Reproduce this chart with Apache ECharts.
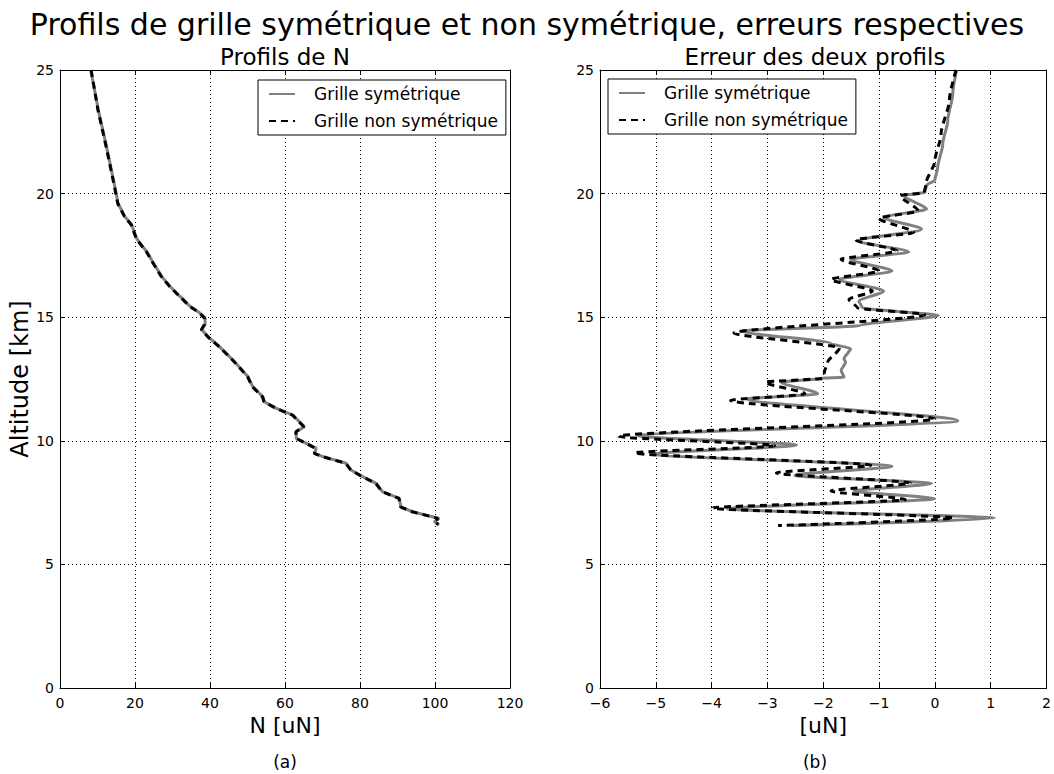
<!DOCTYPE html>
<html>
<head>
<meta charset="utf-8">
<script src="https://cdn.jsdelivr.net/npm/echarts@6/dist/echarts.min.js"></script>
<style>
html,body{margin:0;padding:0;background:#fff;}
#chart{width:1054px;height:774px;}
</style>
</head>
<body>
<div id="chart"></div>
<script>
// ---- Data (N [uN], altitude [km]) ----
const profilSym = [
  [8.2,25],[10.2,23.4],[12.4,21.9],[14.6,20.3],[15.5,19.6],[17.3,19.07],[19.1,18.74],[20.4,18.2],
  [21.3,18.0],[23.1,17.66],[24.9,17.19],[27.1,16.65],[29.3,16.25],[32,15.84],[34.7,15.44],[37.3,15.17],
  [38.7,14.97],[38.7,14.7],[37.8,14.49],[39.9,14.15],[42.6,13.8],[46.1,13.27],[50.1,12.6],[51.4,12.19],
  [54.1,11.78],[54.5,11.58],[57.7,11.31],[62.1,11.04],[65.2,10.57],[63,10.37],[63,10.1],[68.3,9.7],
  [67.9,9.49],[70.1,9.36],[76.3,9.09],[77.6,8.82],[80.7,8.55],[84.3,8.28],[86,7.94],[90.5,7.67],
  [90.9,7.33],[94,7.13],[99.3,6.93],[101.1,6.86],[99.8,6.73],[101.1,6.59]
];
const profilNonSym = [
  [8.3,25],[10.1,23.4],[12.3,21.9],[14.5,20.3],[15.4,19.6],[17.2,19.07],[19.0,18.74],[20.3,18.2],
  [21.2,18.0],[23.0,17.66],[24.8,17.19],[27.0,16.65],[29.2,16.25],[31.9,15.84],[34.6,15.44],[37.2,15.17],
  [38.5,14.97],[38.5,14.7],[37.7,14.49],[39.8,14.15],[42.5,13.8],[46.0,13.27],[50.0,12.6],[51.3,12.19],
  [54.0,11.78],[54.4,11.58],[57.6,11.31],[62.0,11.04],[65.0,10.57],[62.9,10.37],[62.9,10.1],[68.1,9.7],
  [67.8,9.49],[70.0,9.36],[76.2,9.09],[77.5,8.82],[80.6,8.55],[84.2,8.28],[85.9,7.94],[90.4,7.67],
  [90.8,7.33],[93.9,7.13],[99.0,6.93],[100.8,6.86],[99.7,6.73],[100.9,6.62]
];
// ---- Errors ([uN], altitude [km]) ----
const erreurSym = [
  [0.39,25],[0.32,24.04],[0.23,22.95],[0.14,22.0],[0.05,21.06],[0,20.55],[-0.15,20.33],[-0.18,20.05],
  [-0.56,19.92],[-0.15,19.38],[-0.92,19.04],[-0.24,18.56],[-1.39,18.09],[-0.47,17.64],[-1.51,17.34],
  [-0.77,16.87],[-1.71,16.53],[-0.92,16.06],[-1.36,15.65],[-1.3,15.38],[0.06,15.07],[-1.33,14.67],
  [-3.46,14.44],[-1.86,13.93],[-1.51,13.73],[-1.63,13.32],[-1.6,13.18],[-1.68,12.85],[-1.63,12.57],
  [-2.04,12.53],[-2.75,12.37],[-2.1,11.9],[-3.37,11.69],[0.41,10.81],[-5.32,10.2],[-2.48,9.83],
  [-5.05,9.46],[-0.77,8.97],[-2.51,8.6],[-0.06,8.27],[-1.45,7.97],[0,7.66],[-3.72,7.25],[1.06,6.87],
  [-2.57,6.57]
];
const erreurNonSym = [
  [0.38,25],[0.26,23.8],[0.11,22.4],[0,21.33],[-0.16,20.4],[-0.19,20.04],[-0.62,19.92],[-0.3,19.3],
  [-1.0,19.0],[-0.38,18.43],[-1.42,18.13],[-0.68,17.68],[-1.68,17.34],[-1.0,16.87],[-1.86,16.53],
  [-1.12,16.06],[-1.54,15.72],[-1.39,15.38],[-0.18,15.1],[-3.6,14.36],[-1.71,13.75],[-1.92,13.18],
  [-1.98,12.78],[-2.01,12.53],[-3.04,12.37],[-2.33,11.9],[-3.66,11.63],[0,10.88],[-5.67,10.18],
  [-2.87,9.8],[-5.38,9.51],[-1.15,9.01],[-2.84,8.7],[-0.44,8.29],[-1.86,7.97],[-0.53,7.62],
  [-3.99,7.28],[0.33,6.88],[-2.81,6.57]
];
const seriesNames = ['Grille symétrique', 'Grille non symétrique'];
const texts = {
  main: 'Profils de grille symétrique et non symétrique, erreurs respectives',
  subA: 'Profils de N',
  subB: 'Erreur des deux profils',
  xNameA: 'N [uN]',
  xNameB: '[uN]',
  yName: 'Altitude [km]',
  capA: '(a)',
  capB: '(b)'
};

const FONT = 'DejaVu Sans';
const chart = echarts.init(document.getElementById('chart'), null, {renderer: 'svg'});

function xAx(grid, min, max, interval, name) {
  return {
    type: 'value', gridIndex: grid, min: min, max: max, interval: interval,
    name: name, nameLocation: 'middle', nameGap: 26,
    nameTextStyle: {fontFamily: FONT, fontSize: 22, color: '#000'},
    axisLine: {show: true, onZero: false, lineStyle: {color: '#000', width: 1}},
    axisTick: {show: true, inside: true, length: 5, lineStyle: {color: '#000'}},
    axisLabel: {fontFamily: FONT, fontSize: 14, color: '#000', margin: 8,
      formatter: v => (v < 0 ? '\u2212' + Math.abs(v) : String(v))},
    splitLine: {show: true, lineStyle: {color: '#000', type: [1, 3], width: 1}}
  };
}
function xAxTop(grid, min, max, interval) {
  return {
    type: 'value', gridIndex: grid, min: min, max: max, interval: interval, position: 'top',
    axisLine: {show: true, onZero: false, lineStyle: {color: '#000', width: 1}},
    axisTick: {show: true, inside: true, length: 5, lineStyle: {color: '#000'}},
    axisLabel: {show: false}, splitLine: {show: false}
  };
}
function yAx(grid, name) {
  return {
    type: 'value', gridIndex: grid, min: 0, max: 25, interval: 5,
    name: name, nameLocation: 'middle', nameGap: 26, nameRotate: 90,
    nameTextStyle: {fontFamily: FONT, fontSize: 24, color: '#000'},
    axisLine: {show: true, onZero: false, lineStyle: {color: '#000', width: 1}},
    axisTick: {show: true, inside: true, length: 5, lineStyle: {color: '#000'}},
    axisLabel: {fontFamily: FONT, fontSize: 14, color: '#000', margin: 6},
    splitLine: {show: true, lineStyle: {color: '#000', type: [1, 3], width: 1}}
  };
}
function yAxRight(grid) {
  return {
    type: 'value', gridIndex: grid, min: 0, max: 25, interval: 5, position: 'right',
    axisLine: {show: true, onZero: false, lineStyle: {color: '#000', width: 1}},
    axisTick: {show: true, inside: true, length: 5, lineStyle: {color: '#000'}},
    axisLabel: {show: false}, splitLine: {show: false}
  };
}
function legendAt(left, top) {
  return {
    left: left, top: top, orient: 'vertical',
    data: seriesNames,
    backgroundColor: '#fff', borderColor: '#000', borderWidth: 1, borderRadius: 0,
    padding: [5, 8, 5, 10], itemGap: 9, itemWidth: 26, itemHeight: 14,
    itemStyle: {opacity: 0},
    textStyle: {fontFamily: FONT, fontSize: 17, color: '#000', lineHeight: 18, padding: [0, 0, 0, 14]},
    selectedMode: false
  };
}
const lineSym = {color: '#808080', width: 3, type: 'solid'};
const lineNon = {color: '#000', width: 3, type: [7, 5]};
const smoothErr = {smooth: 0.25, smoothMonotone: 'y'};

chart.setOption({
  animation: false,
  backgroundColor: '#fff',
  grid: [
    {left: 60, top: 70, width: 450, height: 618, show: false},
    {left: 600, top: 70, width: 450, height: 618, show: false}
  ],
  xAxis: [
    xAx(0, 0, 120, 20, texts.xNameA),
    xAx(1, -6, 2, 1, texts.xNameB),
    xAxTop(0, 0, 120, 20),
    xAxTop(1, -6, 2, 1)
  ],
  yAxis: [
    yAx(0, texts.yName),
    yAx(1, ''),
    yAxRight(0),
    yAxRight(1)
  ],
  legend: [legendAt(258, 80), legendAt(608, 79)],
  graphic: [
    {type: 'text', x: 527, y: 24, style: {text: texts.main, font: '30px "DejaVu Sans"', fill: '#000', align: 'center', verticalAlign: 'middle'}},
    {type: 'text', x: 285, y: 57, style: {text: texts.subA, font: '23px "DejaVu Sans"', fill: '#000', align: 'center', verticalAlign: 'middle'}},
    {type: 'text', x: 815, y: 57, style: {text: texts.subB, font: '23px "DejaVu Sans"', fill: '#000', align: 'center', verticalAlign: 'middle'}},
    {type: 'text', x: 285, y: 762, style: {text: texts.capA, font: '17px "DejaVu Sans"', fill: '#000', align: 'center', verticalAlign: 'middle'}},
    {type: 'text', x: 815, y: 762, style: {text: texts.capB, font: '17px "DejaVu Sans"', fill: '#000', align: 'center', verticalAlign: 'middle'}}
  ],
  series: [
    {name: seriesNames[0], type: 'line', xAxisIndex: 0, yAxisIndex: 0, data: profilSym,
     showSymbol: false, symbol: 'none', lineStyle: lineSym, itemStyle: {color: '#808080'}, z: 2},
    {name: seriesNames[1], type: 'line', xAxisIndex: 0, yAxisIndex: 0, data: profilNonSym,
     showSymbol: false, symbol: 'none', lineStyle: lineNon, itemStyle: {color: '#000'}, z: 3},
    Object.assign({name: seriesNames[0], type: 'line', xAxisIndex: 1, yAxisIndex: 1, data: erreurSym,
     showSymbol: false, symbol: 'none', lineStyle: lineSym, itemStyle: {color: '#808080'}, z: 2}, smoothErr),
    Object.assign({name: seriesNames[1], type: 'line', xAxisIndex: 1, yAxisIndex: 1, data: erreurNonSym,
     showSymbol: false, symbol: 'none', lineStyle: lineNon, itemStyle: {color: '#000'}, z: 3}, smoothErr)
  ]
});
</script>
</body>
</html>
